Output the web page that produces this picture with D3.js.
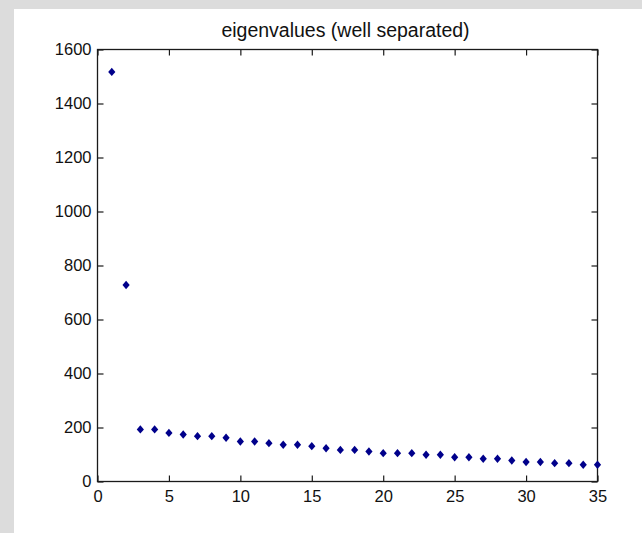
<!DOCTYPE html>
<html><head><meta charset="utf-8">
<script src="https://cdn.jsdelivr.net/npm/d3@7"></script>
<style>
html,body{margin:0;padding:0;background:#dcdcdc;}
svg{display:block;}
</style></head>
<body>
<script>
const title = "eigenvalues (well separated)";
const indices = d3.range(1, 36);
const eigenvalues = [1517, 728, 193, 193, 180, 174, 168, 168, 162, 148,
  148, 142, 136, 136, 131, 123, 117, 117, 111, 105,
  105, 105, 99, 99, 90, 90, 84, 84, 78, 72,
  72, 68, 68, 62, 62];
const xTicks = [0, 5, 10, 15, 20, 25, 30, 35];
const yTicks = [0, 200, 400, 600, 800, 1000, 1200, 1400, 1600];

const W = 642, H = 533;
const L = 97.5, R = 597.5, T = 49.5, B = 481.5;
const svg = d3.select("body").append("svg").attr("width", W).attr("height", H);
svg.append("rect").attr("width", W).attr("height", H).attr("fill", "#dcdcdc");
svg.append("rect").attr("x", 14).attr("y", 9).attr("width", W - 14).attr("height", H - 9).attr("fill", "#ffffff");

const x = d3.scaleLinear().domain([0, 35]).range([L, R]);
const y = d3.scaleLinear().domain([0, 1600]).range([B, T]);

const font = "'Liberation Sans', Arial, sans-serif";
const tl = 6;
const fmt = d3.format("d");
const axB = d3.axisBottom(x).tickValues(xTicks).tickSize(-tl).tickPadding(9).tickFormat(fmt);
const axL = d3.axisLeft(y).tickValues(yTicks).tickSize(-tl).tickPadding(6).tickFormat(fmt);
const axT = d3.axisTop(x).tickValues(xTicks).tickSize(-tl).tickFormat("");
const axR = d3.axisRight(y).tickValues(yTicks).tickSize(-tl).tickFormat("");

function style(g){
  g.select(".domain").remove();
  g.selectAll(".tick line").attr("stroke", "#1a1a1a").attr("stroke-width", 1.2);
  g.selectAll(".tick text").attr("fill", "#111").style("font-family", font).style("font-size", "16.5px");
}
svg.append("g").attr("transform", `translate(0,${B})`).call(axB).call(style);
svg.append("g").attr("transform", `translate(${L},0)`).call(axL).call(style);
svg.append("g").attr("transform", `translate(0,${T})`).call(axT).call(style);
svg.append("g").attr("transform", `translate(${R},0)`).call(axR).call(style);

svg.append("rect").attr("x", L).attr("y", T).attr("width", R - L).attr("height", B - T)
  .attr("fill", "none").attr("stroke", "#1a1a1a").attr("stroke-width", 1.3);

const hw = 3.6, hh = 4.2;
const diamondPath = `M0,${-hh}L${hw},0L0,${hh}L${-hw},0Z`;
svg.append("g").selectAll("path").data(indices).join("path")
  .attr("d", diamondPath)
  .attr("transform", (d, i) => `translate(${x(d)},${y(eigenvalues[i])})`)
  .attr("fill", "#00008b");

svg.append("text").attr("x", (L + R) / 2 - 2).attr("y", 36.5).attr("text-anchor", "middle")
  .style("font-family", font).style("font-size", "19.5px").attr("fill", "#111").text(title);
</script>
</body></html>
